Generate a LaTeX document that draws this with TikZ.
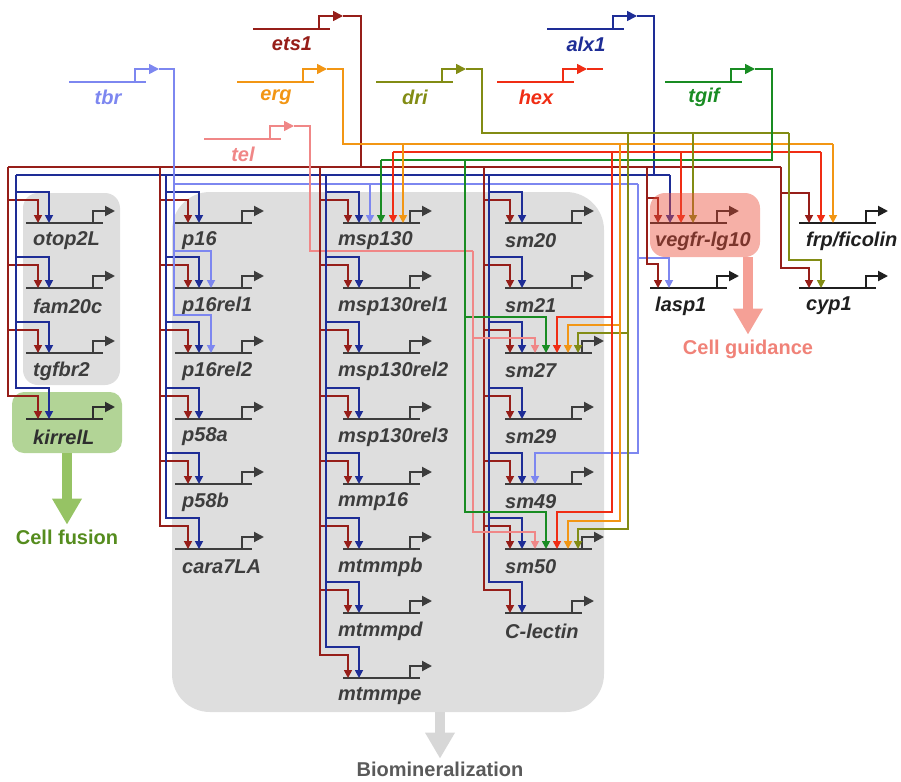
\documentclass[tikz,border=0pt]{standalone}
\usepackage{fontspec}
\setmainfont{Liberation Sans}
\usetikzlibrary{arrows.meta,calc}

\definecolor{etsred}{RGB}{150,30,25}
\definecolor{alxblue}{RGB}{30,45,150}
\definecolor{tbrblue}{RGB}{125,135,240}
\definecolor{ergorange}{RGB}{242,150,20}
\definecolor{telpink}{RGB}{240,135,135}
\definecolor{driolive}{RGB}{130,140,20}
\definecolor{hexred}{RGB}{240,45,20}
\definecolor{tgifgreen}{RGB}{25,140,35}
\definecolor{boxgray}{RGB}{222,222,222}
\definecolor{fusegreen}{RGB}{178,212,150}
\definecolor{fusearrow}{RGB}{150,195,100}
\definecolor{fusetext}{RGB}{85,140,30}
\definecolor{guidefill}{RGB}{235,80,60}
\definecolor{guidearrow}{RGB}{245,160,150}
\definecolor{guidetext}{RGB}{240,130,120}
\definecolor{biogray}{RGB}{215,215,215}
\definecolor{biotext}{RGB}{90,90,90}
\colorlet{genecol}{black!76}

\tikzset{
  wire/.style={line width=1.7pt},
  inarrow/.style={wire,-{Triangle[width=8pt,length=8pt]}},
  geneline/.style={line width=2pt,draw=genecol},
  promo/.style={line width=2pt,draw=genecol,-{Triangle[width=10pt,length=10pt]}},
  genelabel/.style={anchor=west,inner sep=0pt,text=genecol,
    font=\fontsize{20}{24}\selectfont\bfseries\itshape},
  reglabel/.style={inner sep=0pt,font=\fontsize{20}{24}\selectfont\bfseries\itshape},
  graybox/.style={fill=boxgray,rounded corners=15pt,inner sep=0pt},
  fatarrow/.style={line width=10pt,-{Triangle[width=28pt,length=26pt]}},
  outlabel/.style={inner sep=0pt,outer sep=5pt,font=\fontsize{20}{24}\selectfont\bfseries}
}

% target gene: [line length] name, position, label, label shift
\newcommand{\gene}[5][77]{%
  \coordinate (#2) at (#3);
  \draw[geneline] (#2) -- ++(#1,0);
  \draw[promo] ($(#2)+(#1-10,0)$) -- ++(0,-12) -- ++(22,0);
  \node[genelabel] (#2-l) at ($(#2)+(#5,18)$) {#4};
}
% regulator: name, position, label, colour
\newcommand{\reg}[4]{%
  \coordinate (#1) at (#2);
  \draw[wire,#4] (#1) -- ++(77,0);
  \draw[wire,#4,-{Triangle[width=10pt,length=10pt]}] ($(#1)+(66,0)$) -- ++(0,-13) -- ++(24,0);
  \coordinate (#1-o) at ($(#1)+(90,-13)$);
  \node[reglabel,text=#4] (#1-l) at ($(#1)+(39,15)$) {#3};
}
% input: colour, tap, gene, x shift, height of the bend
\newcommand{\inp}[5]{\draw[inarrow,#1] (#2) |- ($(#3)+(#4,-#5)$) -- ($(#3)+(#4,0)$);}
\newcommand{\drop}[3]{\draw[inarrow,#1] (#2) -- (#2 |- #3);}

\begin{document}
\begin{tikzpicture}[x=1pt,y=-1pt]
  \useasboundingbox (0,0) rectangle (901,781);

  % module boxes
  \node[graybox,minimum width=97pt,minimum height=192pt] (skelA) at (71.5,289) {};
  \node[graybox,fill=fusegreen,rounded corners=12pt,minimum width=110pt,minimum height=61pt] (fusebox) at (67,422.5) {};
  \node[graybox,rounded corners=38pt,minimum width=432pt,minimum height=520pt] (skelB) at (388,452) {};

  % regulators
  \reg{ets1}{253,29}{ets1}{etsred}
  \reg{alx1}{547,29}{alx1}{alxblue}
  \reg{tbr}{69,82}{tbr}{tbrblue}
  \reg{erg}{237,82}{erg}{ergorange}
  \reg{dri}{376,82}{dri}{driolive}
  \reg{hex}{497,82}{hex}{hexred}
  \reg{tgif}{665,82}{tgif}{tgifgreen}
  \reg{tel}{204,139}{tel}{telpink}

  % bus taps
  \coordinate (ets-d) at (361,167);
  \coordinate (ets-t1) at (8,167);
  \coordinate (ets-t2) at (160,167);
  \coordinate (ets-t3) at (320,167);
  \coordinate (ets-t4) at (484,167);
  \coordinate (ets-t5) at (647,167);
  \coordinate (ets-t6) at (781,167);
  \coordinate (alx-d) at (654,175);
  \coordinate (alx-t1) at (16,175);
  \coordinate (alx-t2) at (166,175);
  \coordinate (alx-t3) at (326,175);
  \coordinate (alx-t4) at (489,175);
  \coordinate (alx-t5) at (670,175);
  \coordinate (tbr-b1) at (174,184);
  \coordinate (tbr-t2) at (370,184);
  \coordinate (tbr-b2) at (638,184);
  \coordinate (erg-d) at (343,144);
  \coordinate (erg-t1) at (403,144);
  \coordinate (erg-t2) at (620,144);
  \coordinate (erg-t3) at (833,144);
  \coordinate (hex-b) at (393,152);
  \coordinate (hex-t2) at (612,152);
  \coordinate (hex-t3) at (681,152);
  \coordinate (hex-t4) at (821,152);
  \coordinate (dri-d) at (482,133);
  \coordinate (dri-t1) at (628,133);
  \coordinate (dri-t2) at (693,133);
  \coordinate (dri-t3) at (789,133);
  \coordinate (tgif-d) at (772,160);
  \coordinate (tgif-t1) at (381,160);
  \coordinate (tgif-t2) at (465,160);
  \coordinate (tel-j) at (473,251);

  % buses
  \draw[wire,etsred] (ets1-o) -| (ets-d);
  \draw[wire,etsred] (ets-t1) -- (ets-t6);
  \draw[wire,alxblue] (alx1-o) -| (alx-d);
  \draw[wire,alxblue] (alx-t1) -- (alx-t5);
  \draw[wire,tbrblue] (tbr-o) -| (tbr-b1) -- (tbr-b2);
  \draw[wire,ergorange] (erg-o) -| (erg-d) -- (erg-t3);
  \draw[wire,driolive] (dri-o) -| (dri-d) -- (dri-t3);
  \draw[wire,hexred] (hex-o) -- ++(16,0);
  \draw[wire,hexred] (hex-b) -- (hex-t4);
  \draw[wire,tgifgreen] (tgif-o) -| (tgif-d) -- (tgif-t1);
  \draw[wire,telpink] (tel-o) -- ++(16,0) |- (tel-j);

  % target genes
  \gene{otop2L}{26,223}{otop2L}{7}
  \gene{fam20c}{26,288}{fam20c}{7}
  \gene{tgfbr2}{26,353}{tgfbr2}{7}
  \colorlet{genecol}{black!82}
  \gene{kirrelL}{26,419}{kirrelL}{7}
  \colorlet{genecol}{black!76}
  \gene{p16}{175,223}{p16}{7}
  \gene{p16rel1}{175,288}{p16rel1}{7}
  \gene{p16rel2}{175,353}{p16rel2}{7}
  \gene{p58a}{175,419}{p58a}{7}
  \gene{p58b}{175,484}{p58b}{7}
  \gene{cara7LA}{175,549}{cara7LA}{7}
  \gene{msp130}{343,223}{msp130}{-5}
  \gene{msp130rel1}{343,288}{msp130rel1}{-5}
  \gene{msp130rel2}{343,353}{msp130rel2}{-5}
  \gene{msp130rel3}{343,419}{msp130rel3}{-5}
  \gene{mmp16}{343,484}{mmp16}{-5}
  \gene{mtmmpb}{343,549}{mtmmpb}{-5}
  \gene{mtmmpd}{343,613}{mtmmpd}{-5}
  \gene{mtmmpe}{343,678}{mtmmpe}{-5}
  \gene{sm20}{505,223}{sm20}{0}
  \gene{sm21}{505,288}{sm21}{0}
  \gene[87]{sm27}{505,353}{sm27}{0}
  \gene{sm29}{505,419}{sm29}{0}
  \gene{sm49}{505,484}{sm49}{0}
  \gene[87]{sm50}{505,549}{sm50}{0}
  \gene{clectin}{505,613}{C-lectin}{0}
  \colorlet{genecol}{black!88}
  \gene{vegfr}{650,223}{vegfr-lg10}{5}
  \gene{lasp1}{650,288}{lasp1}{5}
  \gene{frp}{799,223}{frp/ficolin}{7}
  \gene{cyp1}{799,288}{cyp1}{7}

  % ets1 and alx1 inputs
  \foreach \g in {otop2L,fam20c,tgfbr2,kirrelL}{
    \inp{etsred}{ets-t1}{\g}{12}{23}
    \inp{alxblue}{alx-t1}{\g}{23}{31}
  }
  \foreach \g in {p16,p16rel1,p16rel2,p58a,p58b,cara7LA}{
    \inp{etsred}{ets-t2}{\g}{13}{23}
    \inp{alxblue}{alx-t2}{\g}{24}{31}
  }
  \foreach \g in {msp130,msp130rel1,msp130rel2,msp130rel3,mmp16,mtmmpb,mtmmpd,mtmmpe}{
    \inp{etsred}{ets-t3}{\g}{5}{23}
    \inp{alxblue}{alx-t3}{\g}{16}{31}
  }
  \foreach \g in {sm20,sm21,sm27,sm29,sm49,sm50,clectin}{
    \inp{etsred}{ets-t4}{\g}{5}{23}
    \inp{alxblue}{alx-t4}{\g}{17}{31}
  }

  % tbr inputs
  \inp{tbrblue}{tbr-b1}{p16rel1}{36}{37}
  \inp{tbrblue}{tbr-b1}{p16rel2}{36}{38}
  \drop{tbrblue}{tbr-t2}{msp130}
  \inp{tbrblue}{tbr-b2}{sm49}{30}{31}
  \inp{tbrblue}{tbr-b2}{lasp1}{19}{30}

  % msp130
  \drop{tgifgreen}{tgif-t1}{msp130}
  \drop{hexred}{hex-b}{msp130}
  \drop{ergorange}{erg-t1}{msp130}

  % sm27 and sm50
  \inp{telpink}{tel-j}{sm27}{30}{15}
  \inp{tgifgreen}{tgif-t2}{sm27}{41}{36}
  \inp{hexred}{hex-t2}{sm27}{52}{36}
  \inp{ergorange}{erg-t2}{sm27}{63}{28}
  \inp{driolive}{dri-t1}{sm27}{73}{20}
  \inp{telpink}{tel-j}{sm50}{30}{17}
  \inp{tgifgreen}{tgif-t2}{sm50}{41}{37}
  \inp{hexred}{hex-t2}{sm50}{52}{37}
  \inp{ergorange}{erg-t2}{sm50}{63}{28}
  \inp{driolive}{dri-t1}{sm50}{73}{20}

  % right hand genes
  \inp{etsred}{ets-t5}{vegfr}{8}{25}
  \drop{alxblue}{alx-t5}{vegfr}
  \drop{hexred}{hex-t3}{vegfr}
  \drop{driolive}{dri-t2}{vegfr}
  \inp{etsred}{ets-t5}{lasp1}{8}{24}
  \inp{etsred}{ets-t6}{frp}{10}{30}
  \drop{hexred}{hex-t4}{frp}
  \drop{ergorange}{erg-t3}{frp}
  \inp{etsred}{ets-t6}{cyp1}{10}{20}
  \inp{driolive}{dri-t3}{cyp1}{22}{28}

  % vegfr module
  \node[fill=guidefill,fill opacity=0.45,rounded corners=15pt,inner sep=0pt,
    minimum width=110pt,minimum height=64pt] (guidebox) at (705,225) {};

  % outcomes
  \node[outlabel,text=fusetext] (fusion) at (67,537) {Cell fusion};
  \draw[fatarrow,fusearrow] (fusebox.south) -- (fusion.north);
  \node[outlabel,text=guidetext] (guide) at (748,349) {Cell guidance};
  \draw[fatarrow,guidearrow] (guide.north |- guidebox.south) -- (guide.north);
  \node[outlabel,text=biotext,outer sep=3pt] (biomin) at (440,769) {Biomineralization};
  \draw[fatarrow,biogray] (biomin.north |- skelB.south) -- (biomin.north);
\end{tikzpicture}
\end{document}
